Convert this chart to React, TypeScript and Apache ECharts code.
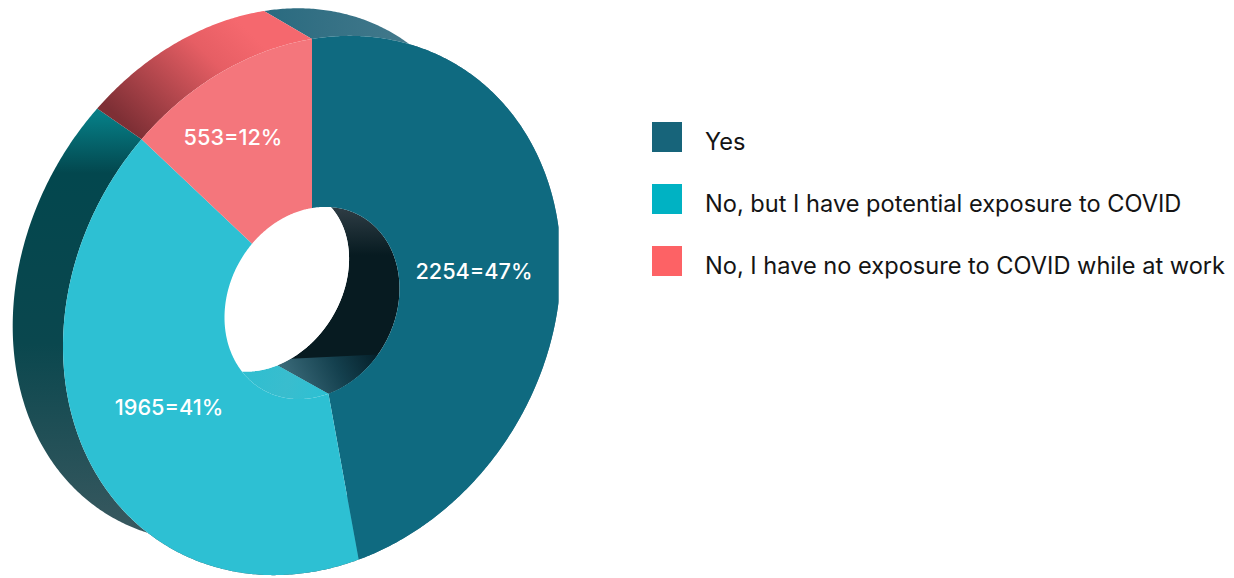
import React, { useEffect, useRef } from "react";
import * as echarts from "echarts";

const categories = [
  "Yes",
  "No, but I have potential exposure to COVID",
  "No, I have no exposure to COVID while at work",
];
const respondents = [2254, 1965, 553];
const sharePercent = [47, 41, 12];

const faceColors = ["#0f6a80", "#2dc0d3", "#f4767c"];
const legendColors = ["#17647a", "#00b2c3", "#fd6265"];

type Ring = { cx: number; cy: number; a: number; b: number; c: number; d: number };

// The disc is drawn in oblique projection: each rim is a unit circle under a linear map.
const frontOuter: Ring = { cx: 312, cy: 305.5, a: 249, b: 0, c: -41, d: 266.5 };
const frontInner: Ring = { cx: 312, cy: 303, a: 87.5, b: 0, c: -14.5, d: 95 };
const backOuter: Ring = { cx: 252, cy: 275, a: 239, b: -12, c: -38, d: 264 };
const backInner: Ring = { cx: 265, cy: 279, a: 84, b: -3, c: -17, d: 91 };
const RIGHT_EDGE = 558.5;

const labelCentres: [number, number][] = [
  [474, 271],
  [169, 407],
  [233, 137],
];

const FONT = "Inter, 'Noto Sans', sans-serif";

const grad = (x: number, y: number, x2: number, y2: number, stops: [number, string][]) =>
  new echarts.graphic.LinearGradient(
    x,
    y,
    x2,
    y2,
    stops.map(([offset, color]) => ({ offset, color })),
    true,
  );

const project = (r: Ring, deg: number): [number, number] => {
  const t = (deg * Math.PI) / 180;
  const u = Math.sin(t);
  const v = -Math.cos(t);
  return [Math.min(RIGHT_EDGE, r.cx + r.a * u + r.b * v), r.cy + r.c * u + r.d * v];
};

const arc = (r: Ring, from: number, to: number) => {
  const n = Math.max(2, Math.ceil(Math.abs(to - from) * 2));
  const out: [number, number][] = [];
  for (let i = 0; i <= n; i++) out.push(project(r, from + ((to - from) * i) / n));
  return out;
};

const band = (r1: Ring, r2: Ring, from: number, to: number) => [
  ...arc(r1, from, to),
  ...arc(r2, to, from),
];

// Slice boundaries, clockwise from twelve o'clock.
const total = sharePercent.reduce((s, v) => s + v, 0);
const sliceAngles = (index: number): [number, number] => {
  const before = sharePercent.slice(0, index).reduce((s, v) => s + v, 0);
  return [(before / total) * 360, ((before + sharePercent[index]) / total) * 360];
};

const outerWallFill = () => [
  grad(270, 40, 430, 40, [
    [0, "#2b6b80"],
    [1, "#467b8d"],
  ]),
  grad(0, 115, 0, 530, [
    [0, "#067d85"],
    [0.14, "#03474e"],
    [0.55, "#0a474e"],
    [1, "#38585f"],
  ]),
  grad(245, 28, 140, 138, [
    [0, "#f5686e"],
    [0.3, "#e65e64"],
    [1, "#7e2f35"],
  ]),
];

const innerWallFill = () => [
  grad(0, 207, 0, 255, [
    [0, "#2f3d45"],
    [1, "#071b21"],
  ]),
  grad(250, 372, 325, 395, [
    [0, "#30bed0"],
    [0.5, "#39bdce"],
    [1, "#2dc0d3"],
  ]),
  "#071b21",
];

function renderWalls() {
  const children: any[] = [];
  const outerFill = outerWallFill();
  const innerFill = innerWallFill();
  sharePercent.forEach((_, i) => {
    const [from, to] = sliceAngles(i);
    children.push({
      type: "polygon",
      shape: { points: band(backOuter, frontOuter, from, to) },
      style: { fill: outerFill[i] },
    });
  });
  sharePercent.forEach((_, i) => {
    const [from, to] = sliceAngles(i);
    children.push({
      type: "polygon",
      shape: { points: band(backInner, frontInner, from, to) },
      style: { fill: innerFill[i] },
    });
  });
  // Lit patch at the foot of the first slice's inner wall.
  const [, yesEnd] = sliceAngles(0);
  children.push({
    type: "polygon",
    shape: { points: [...arc(frontInner, 131, yesEnd), ...arc(backInner, yesEnd, 160)] },
    style: {
      fill: grad(290, 385, 372, 345, [
        [0, "#3a6a79"],
        [0.55, "#14404e"],
        [1, "#05202a"],
      ]),
    },
  });
  // Far opening of the hole.
  children.push({
    type: "polygon",
    shape: { points: arc(backInner, 0, 360) },
    style: { fill: "#ffffff" },
  });
  return { type: "group", children };
}

const renderFace = (index: number) => () => {
  const [from, to] = sliceAngles(index);
  const [lx, ly] = labelCentres[index];
  return {
    type: "group",
    children: [
      {
        type: "polygon",
        shape: { points: band(frontOuter, frontInner, from, to) },
        style: { fill: faceColors[index] },
      },
      {
        type: "text",
        style: {
          x: lx,
          y: ly,
          text: `${respondents[index]}=${sharePercent[index]}%`,
          fill: "#ffffff",
          font: `500 21.7px ${FONT}`,
          align: "center",
          verticalAlign: "middle",
        },
      },
    ],
  };
};

export default function App() {
  const ref = useRef<HTMLDivElement>(null);
  useEffect(() => {
    const chart = echarts.init(ref.current!, undefined, { renderer: "svg" });
    chart.setOption({
      animation: false,
      backgroundColor: "#ffffff",
      legend: {
        left: 652,
        top: 122,
        padding: 0,
        orient: "vertical",
        itemWidth: 30,
        itemHeight: 30,
        itemGap: 31,
        selectedMode: false,
        icon: "rect",
        data: categories.map((name, i) => ({ name, itemStyle: { color: legendColors[i] } })),
        formatter: (name: string) => `{t|${name}}`,
        textStyle: {
          rich: {
            t: {
              fontFamily: FONT,
              fontSize: 23.6,
              color: "#141414",
              padding: [8, 0, 0, 18],
            },
          },
        },
      },
      series: [
        {
          type: "custom",
          name: "walls",
          coordinateSystem: "none",
          z: 1,
          silent: true,
          data: [sharePercent],
          renderItem: renderWalls,
        },
        ...categories.map((name, i) => ({
          type: "custom",
          name,
          coordinateSystem: "none",
          z: 2,
          itemStyle: { color: legendColors[i] },
          data: [[sharePercent[i], respondents[i]]],
          renderItem: renderFace(i),
        })),
      ],
    });
    return () => chart.dispose();
  }, []);
  return <div ref={ref} style={{ position: "absolute", left: 0, top: 0, width: 1234, height: 578 }} />;
}
